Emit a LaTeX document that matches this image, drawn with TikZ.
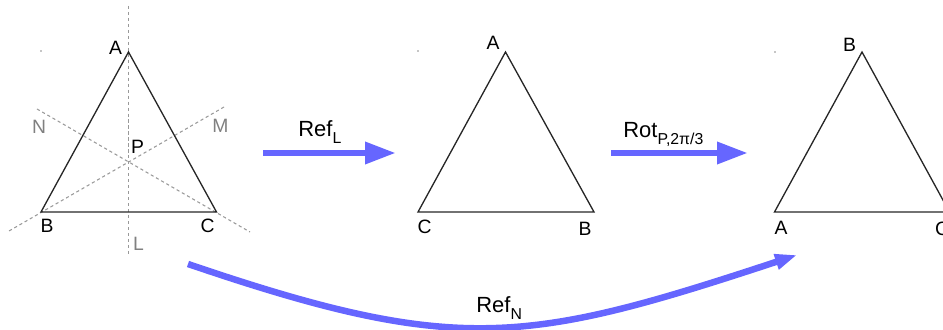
\documentclass[tikz,border=0pt]{standalone}
\usepackage{fontspec}
\setmainfont{Liberation Sans}
\usetikzlibrary{arrows.meta}
\definecolor{mapblue}{RGB}{102,102,255}
\newcommand{\lowsub}[1]{\raisebox{-3.9pt}{\fontsize{9}{10}\selectfont #1}}

\begin{document}
\begin{tikzpicture}[x=0.02cm,y=-0.02cm]
  \tikzstyle{side}=[draw=black!85,line width=0.75pt,line join=miter]
  \tikzstyle{axis}=[draw=black!40,line width=0.6pt,dash pattern=on 1.8pt off 1.6pt]
  \tikzstyle{vlabel}=[inner sep=0pt,anchor=base,font=\fontsize{11}{13}\selectfont]
  \tikzstyle{axislabel}=[vlabel,text=black!50]
  \tikzstyle{maplabel}=[inner sep=0pt,anchor=base west,font=\fontsize{12.5}{14}\selectfont]
  \tikzstyle{map}=[draw=mapblue,line width=3.7pt,-{Triangle[length=17.6pt,width=11.9pt]}]
  \useasboundingbox (0,0) rectangle (943,330);

  % first triangle with mirror axes
  \coordinate (A1) at (128.5,52);
  \coordinate (B1) at (41,212);
  \coordinate (C1) at (216.5,212);
  \coordinate (Ltop) at (128.5,6);
  \coordinate (Lbot) at (128.5,256);
  \coordinate (Ntop) at (37,109);
  \coordinate (Nbot) at (250,232);
  \coordinate (Mtop) at (224,107);
  \coordinate (Mbot) at (9,231);
  \draw[axis] (Ltop) -- (Lbot);
  \draw[axis] (Ntop) -- (Nbot);
  \draw[axis] (Mtop) -- (Mbot);
  \draw[side] (A1) -- (B1) -- (C1) -- cycle;
  \fill[black!45] (41,51) circle (0.5pt);
  \node[vlabel] (lA1) at (115.5,55) {A};
  \node[vlabel] (lB1) at (47,233) {B};
  \node[vlabel] (lC1) at (207.5,233) {C};
  \node[vlabel] (lP) at (137.5,154) {P};
  \node[axislabel] (lN) at (39,134) {N};
  \node[axislabel] (lM) at (220.5,133) {M};
  \node[axislabel] (lL) at (138.5,251) {L};

  % second triangle
  \coordinate (A2) at (505.5,52);
  \coordinate (B2) at (594,212);
  \coordinate (C2) at (418,212);
  \draw[side] (A2) -- (B2) -- (C2) -- cycle;
  \fill[black!45] (418,51) circle (0.5pt);
  \node[vlabel] (lA2) at (493,50) {A};
  \node[vlabel] (lB2) at (585,236) {B};
  \node[vlabel] (lC2) at (424.5,234) {C};

  % third triangle
  \coordinate (A3) at (774.5,212);
  \coordinate (B3) at (862,52);
  \coordinate (C3) at (949.5,212);
  \draw[side] (A3) -- (B3) -- (C3) -- cycle;
  \fill[black!45] (775,52) circle (0.5pt);
  \node[vlabel] (lA3) at (781,235) {A};
  \node[vlabel] (lB3) at (849.5,52) {B};
  \node[vlabel] (lC3) at (942,236) {C};

  % maps
  \coordinate (refLfrom) at (263,153);
  \coordinate (refLto) at (396,153);
  \coordinate (rotfrom) at (611,153);
  \coordinate (rotto) at (748,153);
  \coordinate (refNfrom) at (188,264);
  \coordinate (refNto) at (797,255);
  \draw[map] (refLfrom) -- (refLto);
  \draw[map] (rotfrom) -- (rotto);
  \draw[map,-{Triangle[length=12.5pt,width=8.5pt]}] (refNfrom) .. controls (458,356) and (527,344) .. (refNto);
  \node[maplabel] (refL) at (298,137) {Ref\lowsub{L}};
  \node[maplabel] (rot) at (623,138) {Rot\lowsub{P,2π/3}};
  \node[maplabel] (refN) at (476,313) {Ref\lowsub{N}};
\end{tikzpicture}
\end{document}
